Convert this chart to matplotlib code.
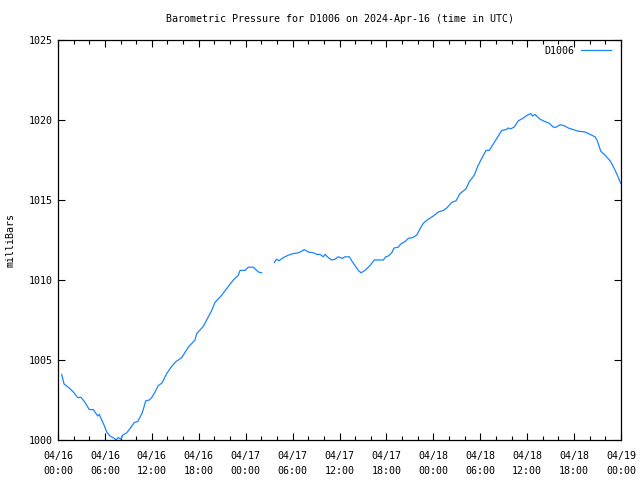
import numpy as np
import pandas as pd
import matplotlib
matplotlib.use("Agg")
import matplotlib.pyplot as plt
import matplotlib.dates as mdates

# hours since 2024-04-16 00:00 UTC and pressure (mbar); NaN marks the data gap
hours = [0.47, 0.77, 1.32, 1.96, 2.52, 2.94, 3.45, 4.0, 4.51, 5.08, 5.28, 5.59, 5.92,
         6.23, 6.65, 7.2, 7.42, 7.71, 8.06, 8.27, 8.79, 9.34, 9.76, 10.19, 10.78, 11.22,
         11.68, 11.98, 12.41, 12.83, 13.26, 13.59, 13.9, 14.54, 15.09, 15.82, 16.66,
         17.52, 17.74, 18.58, 19.22, 19.66, 20.08, 20.94, 21.78, 22.42, 23.06, 23.28,
         23.92, 24.34, 24.98, 25.62, 26.05, 26.8,
         27.66, 27.97, 28.26, 28.81, 29.45, 30.09, 30.73, 31.17, 31.5, 32.01, 32.65,
         33.09, 33.51, 33.93, 34.15, 34.57, 35.0, 35.43, 35.85, 36.36, 36.7, 37.26,
         37.56, 37.98, 38.41, 38.75, 39.26, 39.9, 40.45, 41.6, 41.91, 42.24, 42.68,
         42.97, 43.52, 43.83, 44.38, 44.8, 45.36, 45.87, 46.3, 46.72, 47.36, 48.0,
         48.64, 49.28, 49.71, 50.35, 50.9, 51.41, 52.18, 52.6, 53.24, 53.67, 54.19,
         54.74, 55.16, 55.67, 56.18, 56.75, 57.3, 57.59, 57.9, 58.32, 58.87, 59.43,
         60.02, 60.45, 60.71, 61.0, 61.64, 62.28, 62.83, 63.34, 63.69, 64.2, 64.71,
         65.26, 65.9, 66.54, 67.4, 68.04, 68.68, 68.97, 69.41, 69.96, 70.6, 71.11,
         71.53, 71.96]
pressure = [1004.1, 1003.5, 1003.3, 1003.0, 1002.65, 1002.67, 1002.35, 1001.9, 1001.9,
            1001.5, 1001.6, 1001.25, 1000.9, 1000.5, 1000.25, 1000.1, 1000.0, 1000.15,
            1000.05, 1000.3, 1000.45, 1000.8, 1001.1, 1001.15, 1001.7, 1002.45, 1002.5,
            1002.65, 1003.0, 1003.4, 1003.55, 1003.85, 1004.15, 1004.6, 1004.9, 1005.15,
            1005.8, 1006.25, 1006.65, 1007.1, 1007.7, 1008.1, 1008.6, 1009.05, 1009.6,
            1010.0, 1010.3, 1010.6, 1010.6, 1010.8, 1010.8, 1010.5, 1010.45, np.nan,
            1011.1, 1011.3, 1011.2, 1011.4, 1011.55, 1011.65, 1011.7, 1011.8, 1011.9,
            1011.75, 1011.7, 1011.6, 1011.6, 1011.45, 1011.6, 1011.4, 1011.25, 1011.3,
            1011.45, 1011.35, 1011.45, 1011.45, 1011.2, 1010.9, 1010.6, 1010.45, 1010.6,
            1010.9, 1011.25, 1011.25, 1011.45, 1011.5, 1011.7, 1012.0, 1012.05, 1012.25,
            1012.4, 1012.6, 1012.65, 1012.8, 1013.2, 1013.55, 1013.8, 1014.0, 1014.25,
            1014.35, 1014.5, 1014.85, 1014.95, 1015.4, 1015.7, 1016.15, 1016.55, 1017.1,
            1017.6, 1018.1, 1018.1, 1018.5, 1018.9, 1019.35, 1019.4, 1019.5, 1019.45,
            1019.55, 1019.95, 1020.1, 1020.3, 1020.4, 1020.25, 1020.35, 1020.05, 1019.9,
            1019.8, 1019.55, 1019.55, 1019.7, 1019.65, 1019.5, 1019.4, 1019.3, 1019.25,
            1019.1, 1018.95, 1018.7, 1018.05, 1017.8, 1017.45, 1017.0, 1016.55, 1016.05]
series_name = "D1006"
title = "Barometric Pressure for D1006 on 2024-Apr-16 (time in UTC)"
y_label = "milliBars"
y_ticks = [1000, 1005, 1010, 1015, 1020, 1025]

start = pd.Timestamp("2024-04-16 00:00")
end = pd.Timestamp("2024-04-19 00:00")
times = [start + pd.Timedelta(hours=h) for h in hours]

font = "DejaVu Sans Mono"
fs = 7.2
color = "#1a84ff"

fig = plt.figure(figsize=(6.4, 4.8), dpi=100)
ax = fig.add_axes([58 / 640, 1 - 440 / 480, (621 - 58) / 640, 400 / 480])
ax.plot(times, pressure, color=color, lw=0.9, label=series_name)

ax.set_xlim(start, end)
ax.set_ylim(1000, 1025)
ax.set_yticks(y_ticks)
ax.set_yticklabels([str(v) for v in y_ticks], family=font, fontsize=fs)

ax.xaxis.set_major_locator(mdates.HourLocator(byhour=[0, 6, 12, 18]))
ax.xaxis.set_minor_locator(mdates.HourLocator(interval=2))
ax.xaxis.set_major_formatter(mdates.DateFormatter("%m/%d\n%H:%M"))

ax.tick_params(which="both", direction="in", top=True, right=True, width=0.8,
               labelsize=fs)
ax.tick_params(which="major", length=5)
ax.tick_params(which="minor", length=3)
ax.tick_params(axis="x", which="major", pad=8)
ax.tick_params(axis="y", which="major", pad=4)
fig.canvas.draw()
for lab in ax.get_xticklabels():
    lab.set_family(font)
    lab.set_fontsize(fs)
    lab.set_linespacing(1.55)
for sp in ax.spines.values():
    sp.set_linewidth(0.9)

ax.set_title(title, family=font, fontsize=fs, pad=13)
ax.set_ylabel(y_label, family=font, fontsize=fs, labelpad=9)

leg = ax.legend(loc="upper right", bbox_to_anchor=(1.0, 1.011), frameon=False,
                prop={"family": font, "size": fs},
                markerfirst=False, handlelength=3.0, handletextpad=0.7,
                borderaxespad=0.7, borderpad=0.3)

fig.savefig("out.png", dpi=100)
